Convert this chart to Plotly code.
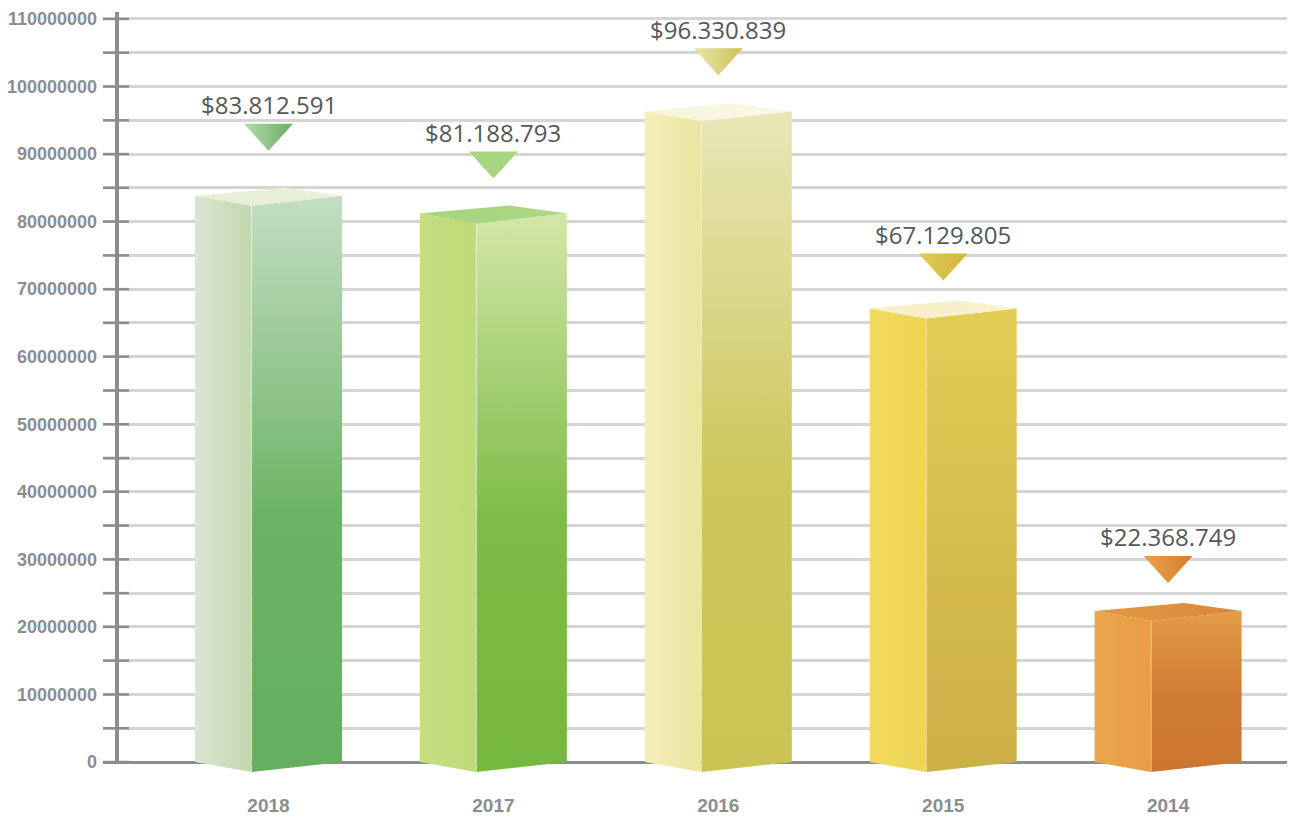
import plotly.graph_objects as go

# ---------------- data ----------------
years = ["2018", "2017", "2016", "2015", "2014"]
values = [83812591, 81188793, 96330839, 67129805, 22368749]

# ---------------- styles ----------------
left_face_colors = [("#dae5d2", "#c1d8ae"), ("#c4de80", "#bedb78"), ("#f3efbb", "#ebe59d"),
                    ("#f1da5e", "#eed452"), ("#e9a64e", "#e89c46")]
front_face_colors = [("#64b05f", "#6cb465", "#c4dec4"), ("#75b83e", "#7dbc47", "#d3e7a8"),
                     ("#cac452", "#cdc75c", "#e9e7b8"), ("#cbb046", "#d4bc4c", "#e2cd54"),
                     ("#cc7632", "#cf7a34", "#e39c46")]
top_face_colors = [("#e6eed4", "#eaf1dc"), ("#a6d47e", "#acd786"), ("#f8f5dc", "#faf8e8"),
                   ("#f7eec2", "#f9f2d0"), ("#e39a44", "#d8863a")]
tri_colors = [("#b8d9b0", "#64af5e"), ("#a9d685", "#a6d47f"), ("#e9e5a8", "#cac35a"),
              ("#e4cb55", "#d0b43f"), ("#e9a24a", "#d57f2e")]
tip_gap_px = [45, 35, 36, 28, 28]   # gap between bar top and marker tip (layout)

# page has an 8px body margin, so the figure is placed to compensate
W, H = 1295, 810
ML, MR, MT, MB = 95, 0, 4, 42
plot_w, plot_h = W - ML - MR, H - MT - MB
pxu = 224.9                                 # px per category unit
x_range = [-0.7359, -0.7359 + plot_w / pxu]
y_range = [-2.0725e6, 111.03e6]
ppy = plot_h / (y_range[1] - y_range[0])   # px per value unit

def dx(px):
    return px / pxu

def dy(px):
    return px / ppy

axis_gray = "#8b8d8f"
ytick_font = dict(family="Liberation Sans, Arial, sans-serif", size=18, color=axis_gray, weight="bold")
xtick_font = dict(family="Liberation Sans, Arial, sans-serif", size=19, color=axis_gray, weight="bold")

fig = go.Figure()

def face(xs, ys, gtype, cscale):
    fig.add_trace(go.Scatter(
        x=xs, y=ys, mode="lines", fill="toself",
        line=dict(width=0, color="rgba(0,0,0,0)"),
        fillgradient=dict(type=gtype, colorscale=cscale),
        hoverinfo="skip", showlegend=False))

for i, v in enumerate(values):
    c = i
    xl, xm, xr, xp = c - dx(73.5), c - dx(17), c + dx(73.5), c + dx(16)
    dip = dy(10)
    # left face
    lc = left_face_colors[i]
    face([xl, xm, xm, xl, xl], [0, -dip, v - dip, v, 0], "horizontal", [[0, lc[0]], [1, lc[1]]])
    # front face
    fc = front_face_colors[i]
    face([xm, xr, xr, xm, xm], [-dip, 0, v, v - dip, -dip], "vertical",
         [[0, fc[0]], [0.45, fc[1]], [1, fc[2]]])
    # top face
    tc = top_face_colors[i]
    face([xl, xm, xr, xp, xl], [v, v - dip, v, v + dy(8), v], "horizontal", [[0, tc[0]], [1, tc[1]]])
    # edge highlight
    fig.add_trace(go.Scatter(x=[xm, xm], y=[-dip, v - dip], mode="lines",
                             line=dict(width=1, color="rgba(255,255,255,0.45)"),
                             hoverinfo="skip", showlegend=False))
    # marker triangle
    tip = v + dy(tip_gap_px[i])
    top = tip + dy(27)
    trc = tri_colors[i]
    face([c - dx(24.5), c + dx(24.5), c, c - dx(24.5)], [top, top, tip, top], "horizontal",
         [[0, trc[0]], [1, trc[1]]])
    fig.add_annotation(x=c, y=v, yshift=tip_gap_px[i] + 27 + 19, showarrow=False,
                       text="$" + f"{v:,}".replace(",", "."), yanchor="middle",
                       font=dict(family="Open Sans, Noto Sans, sans-serif", size=24, color="#555759"))

# axis ticks crossing the axis line
t = 0
while t <= 110e6:
    fig.add_shape(type="line", xref="paper", yref="y", x0=0, x1=26 / plot_w, y0=t, y1=t,
                  line=dict(color=axis_gray, width=2.5), layer="above")
    t += 5e6
fig.add_shape(type="line", xref="paper", yref="y", x0=14 / plot_w, x1=14 / plot_w,
              y0=0, y1=y_range[1], line=dict(color=axis_gray, width=4), layer="above")

fig.update_layout(
    width=W, height=H, margin=dict(l=ML, r=MR, t=MT, b=MB, autoexpand=False),
    paper_bgcolor="white", plot_bgcolor="white", showlegend=False,
    xaxis=dict(range=x_range, tickmode="array", tickvals=list(range(len(years))), ticktext=years,
               showgrid=False, zeroline=False, showline=False, ticks="", tickfont=xtick_font,
               ticklabelstandoff=16, fixedrange=True, automargin=False),
    yaxis=dict(range=y_range, tickmode="linear", tick0=0, dtick=10e6, tickformat="d",
               showgrid=True, gridcolor="#d5d5d5", gridwidth=3,
               minor=dict(tick0=0, dtick=5e6, showgrid=True, gridcolor="#d5d5d5", gridwidth=3),
               zeroline=True, zerolinecolor=axis_gray, zerolinewidth=2.5,
               showline=False, ticks="", tickfont=ytick_font, ticklabelstandoff=5, fixedrange=True,
               automargin=False),
)

fig.write_html("out.html")
